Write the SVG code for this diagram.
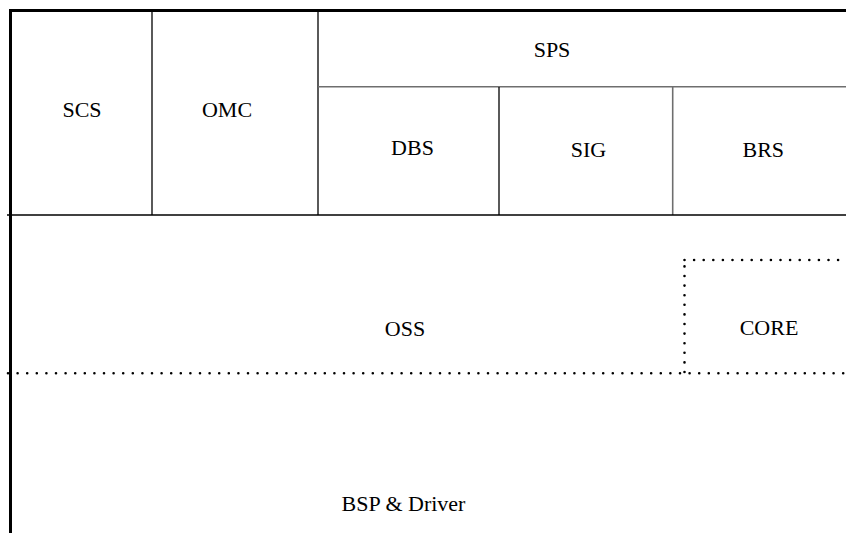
<svg xmlns="http://www.w3.org/2000/svg" width="846" height="533" viewBox="0 0 846 533">
<style>
text{font-family:'Times New Roman','Liberation Serif',Tinos,'DejaVu Serif',serif;font-size:22px;fill:#000;text-anchor:middle}
.thick{stroke:#000;stroke-width:3;fill:none}
.ln{stroke:#000;stroke-width:1.3;fill:none}
.gl{stroke:#6e6e6e;stroke-width:1.6;fill:none}
.dot{stroke:#000;stroke-width:2.6;stroke-linecap:round;stroke-dasharray:0 9.6;fill:none}
</style>
<rect width="846" height="533" fill="#fff"/>
<g id="connectors">
<line class="thick" x1="9" y1="10.5" x2="846" y2="10.5"/>
<line class="thick" x1="10.5" y1="9" x2="10.5" y2="533"/>
<line class="ln" x1="152" y1="12" x2="152" y2="215"/>
<line class="ln" x1="318" y1="12" x2="318" y2="215"/>
<line class="gl" x1="318" y1="86.7" x2="846" y2="86.7"/>
<line class="ln" x1="499" y1="87" x2="499" y2="215"/>
<line class="gl" x1="672.7" y1="87" x2="672.7" y2="215"/>
<line class="ln" x1="7" y1="215" x2="846" y2="215"/>
<line class="dot" x1="8" y1="373.3" x2="846" y2="373.3"/>
<line class="dot" x1="684.5" y1="372" x2="684.5" y2="260"/>
<line class="dot" x1="684.5" y1="260" x2="846" y2="260"/>
</g>
<g id="SCS"><text x="82" y="117">SCS</text></g>
<g id="OMC"><text x="227" y="117">OMC</text></g>
<g id="SPS"><text x="552" y="57">SPS</text></g>
<g id="DBS"><text x="412.5" y="154.5">DBS</text></g>
<g id="SIG"><text x="588.5" y="156.5">SIG</text></g>
<g id="BRS"><text x="763.3" y="156.5">BRS</text></g>
<g id="OSS"><text x="405" y="336">OSS</text></g>
<g id="CORE"><text x="769" y="335">CORE</text></g>
<g id="BSP"><text x="403.5" y="510.5">BSP &amp; Driver</text></g>
</svg>
